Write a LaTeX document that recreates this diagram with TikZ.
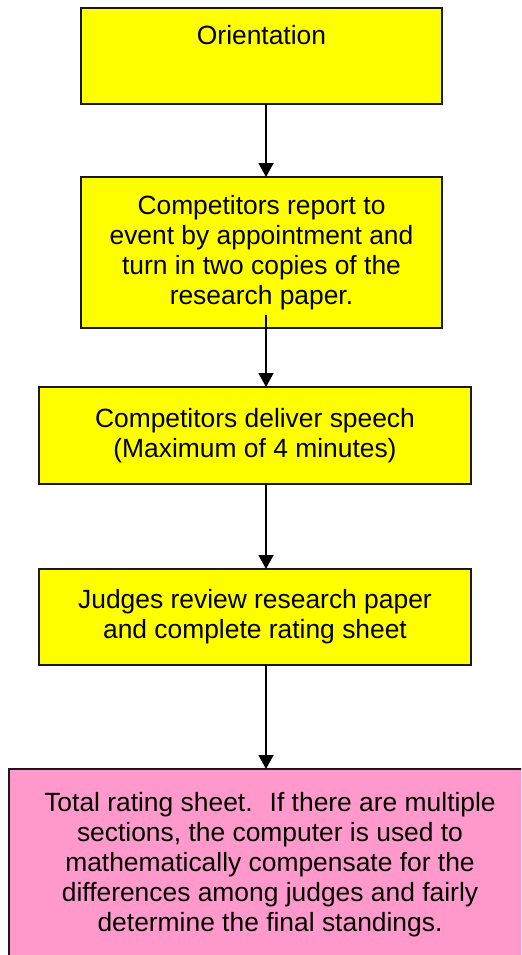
\documentclass[tikz,border=0pt]{standalone}
\usepackage{fontspec}
\setmainfont{Liberation Sans}
\usepackage{xcolor}
\usepackage{tikz}
\usetikzlibrary{shapes,arrows.meta,positioning,calc}
\definecolor{boxyellow}{HTML}{FFFF00}
\definecolor{boxpink}{HTML}{FF99CC}
\tikzstyle{stepbox} = [rectangle, draw=black!90, line width=0.7pt, outer sep=0pt, align=center, font=\fontsize{13.2pt}{15pt}\selectfont]
\tikzstyle{arrow} = [line width=0.7pt,-{Triangle[length=7pt,width=7.5pt]}]

\begin{document}
\begin{tikzpicture}[node distance=36.5pt]
    \clip (0,0) rectangle (260.5pt,-477.5pt);
    \coordinate (spine) at (133pt,0);
    \node[stepbox, fill=boxyellow, minimum width=180.5pt, minimum height=48pt, inner ysep=4pt, text height=14pt, text depth=26pt] (orient) at (130.75pt,-28pt) {Orientation};
    \node[stepbox, fill=boxyellow, minimum width=180.5pt, minimum height=75.5pt, below=36.5pt of orient] (report) {Competitors report to\\event by appointment and\\turn in two copies of the\\research paper.};
    \node[stepbox, fill=boxyellow, minimum width=216pt, minimum height=48.5pt, below=29.5pt of report, xshift=-3.25pt] (speech) {Competitors deliver speech\\(Maximum of 4 minutes)};
    \node[stepbox, fill=boxyellow, minimum width=216pt, minimum height=48pt, below=42.5pt of speech] (review) {Judges review research paper\\and complete rating sheet};
    \node[stepbox, fill=boxpink, minimum width=261pt, minimum height=96pt, below=52pt of review, xshift=7.5pt] (total) {Total rating sheet.~ If there are multiple\\sections, the computer is used to\\mathematically compensate for the\\differences among judges and fairly\\determine the final standings.};
    \draw[arrow] (orient.south -| spine) -- (report.north -| spine);
    \draw[arrow] ($(report.south -| spine)+(0,6.5pt)$) -- (speech.north -| spine);
    \draw[arrow] (speech.south -| spine) -- (review.north -| spine);
    \draw[arrow] (review.south -| spine) -- (total.north -| spine);
\end{tikzpicture}
\end{document}
